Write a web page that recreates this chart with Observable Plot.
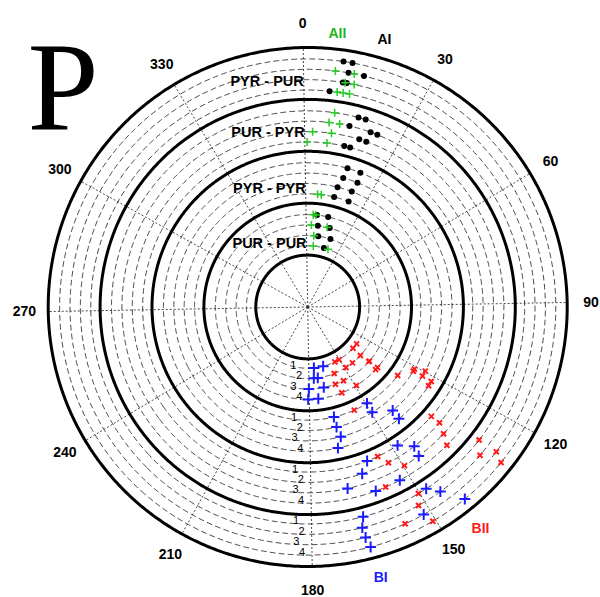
<!DOCTYPE html>
<html><head><meta charset="utf-8">
<script src="https://cdn.jsdelivr.net/npm/d3@7"></script>
<script src="https://cdn.jsdelivr.net/npm/@observablehq/plot@0.6"></script>
<style>body{margin:0;background:#fff}#chart{width:600px;height:597px}</style>
</head><body><div id="chart"></div>
<script>
// angular ticks (degrees, clockwise from top)
const angleTicks = [0,30,60,90,120,150,180,210,240,270,300,330];
// bands from centre outwards
const bandNames = ["PUR - PUR","PYR - PYR","PUR - PYR","PYR - PUR"];
const trackLabels = [1,2,3,4];
const seriesNames = ["AII","AI","BI","BII"];
// points: [band (1 = inner), track (1..4), angle in degrees]
const AI = [
 [4,4,9.3],[4,4,11.4],[4,3,10.9],[4,3,14.7],[4,2,9.9],[4,2,10.9],[4,1,6.8],
 [3,4,16.0],[3,4,18.2],[3,3,14.0],[3,3,20.8],[3,3,23.0],[3,2,18.1],[3,2,20.5],[3,1,13.8],[3,1,15.9],
 [2,4,17.0],[2,4,22.4],[2,3,16.4],[2,3,22.8],[2,2,15.0],[2,2,21.9],[2,1,14.5],[2,1,22.2],
 [1,4,6.8],[1,4,13.8],[1,3,8.1],[1,3,16.6],[1,2,9.4],[1,2,19.5],[1,1,16.3]
];
const AII = [
 [4,3,7.7],[4,3,12.3],[4,2,10.5],[4,2,12.8],[4,1,8.8],[4,1,10.4],[4,1,12.1],
 [3,4,8.9],[3,3,7.6],[3,3,10.9],[3,2,2.6],[3,2,8.8],[3,1,0.8],[3,1,7.7],
 [2,1,6.0],[2,1,7.9],
 [1,4,4.4],[1,4,6.2],[1,3,3.6],[1,3,14.7],[1,2,5.9],[1,1,6.2],[1,1,20.3]
];
const BI = [
 [1,1,175.2],[1,1,166.4],[1,2,176.1],[1,2,172.9],[1,3,180.2],[1,3,169.7],[1,4,180.7],[1,4,174.4],
 [2,1,167.6],[2,1,149.4],[2,2,167.5],[2,2,149.5],[2,3,166.7],[2,3,141.6],[2,4,168.9],[2,4,141.8],
 [3,1,148.0],[3,1,159.9],[3,2,143.6],[3,2,162.9],[3,3,144.3],[3,3,168.6],[3,4,153.0],[3,4,160.7],
 [4,1,147.9],[4,1,166.2],[4,2,145.3],[4,2,167.1],[4,3,151.8],[4,3,166.9],[4,4,141.7],[4,4,166.3]
];
const BII = [
 [1,1,128.0],[1,1,133.3],[1,1,150.2],[1,1,154.7],[1,2,133.6],[1,2,142.3],[1,2,148.7],[1,2,159.3],
 [1,3,132.3],[1,3,132.8],[1,3,155.1],[1,3,161.3],[1,4,131.9],[1,4,133.7],[1,4,149.1],[1,4,159.3],
 [2,1,128.3],[2,1,156.7],[2,2,121.2],[2,2,122.3],[2,3,119.6],[2,3,122.0],[2,4,122.1],[2,4,124.1],
 [3,1,132.5],[3,1,155.9],[3,2,132.3],[3,2,153.6],[3,3,134.0],[3,3,149.6],[3,4,135.8],[3,4,157.6],
 [4,1,128.8],[4,1,150.3],[4,2,131.7],[4,2,151.8],[4,3,128.5],[4,3,156.8],[4,4,129.8],[4,4,150.7]
];

// radial layout: hub + 4 bands of 10 units, tracks inside each band
const BAND = 10, OUTER = 50;
const trackR = (b, k) => BAND * b + 2 * k - 0.2;
const lon = a => 180 - a;          // clockwise angle from top -> longitude
const lat = r => 90 - r;           // radius -> latitude (azimuthal equidistant)
const circ = r => d3.geoCircle().center([0, 90]).radius(r).precision(0.5)();

const thick = [1,2,3,4,5].map(b => circ(BAND * b));
const dashed = [];
for (const b of [1,2,3,4]) for (const k of trackLabels) dashed.push(circ(trackR(b, k)));

const trackText = [];
for (const b of [1,2,3,4]) for (const k of trackLabels) trackText.push({b, k});
const oddTracks = trackText.filter(d => d.k % 2 === 1);
const evenTracks = trackText.filter(d => d.k % 2 === 0);

const bandLabelR = [12.3, 22.9, 33.6, 43.4];
const seriesPos = [
  {name: seriesNames[0], a: 7.2, r: 52.95, color: "#22b422"},
  {name: seriesNames[1], a: 17.0, r: 53.6, color: "#000"},
  {name: seriesNames[2], a: 165.9, r: 53.95, color: "#1a1aff"},
  {name: seriesNames[3], a: 143.1, r: 54.2, color: "#ff1a1a"}
];

const pt = arr => arr.map(([b, k, a]) => ({x: lon(a), y: lat(trackR(b, k))}));
const trackOpts = dx => ({x: lon(180), y: d => lat(trackR(d.b, d.k)), text: d => String(d.k),
  dx, dy: -3, fontSize: 11, fill: "#000"});

const plot = Plot.plot({
  width: 600, height: 597,
  marginLeft: 47.7, marginRight: 33.3, marginTop: 47, marginBottom: 31,
  style: {fontFamily: "'Liberation Sans', Arial, sans-serif", background: "#fff"},
  projection: {
    type: "azimuthal-equidistant",
    rotate: [1, -90],
    domain: circ(OUTER),
    clip: false,
    inset: 0
  },
  marks: [
    Plot.link(angleTicks, {x1: d => lon(d), y1: 89.9999, x2: d => lon(d), y2: lat(OUTER),
      stroke: "#333", strokeWidth: 0.9, strokeDasharray: "2,2"}),
    Plot.geo(dashed, {stroke: "#333", strokeWidth: 0.9, fill: "none", strokeDasharray: "5,4"}),
    Plot.geo(thick, {stroke: "#000", strokeWidth: 3, fill: "none"}),
    // angle labels
    Plot.text(angleTicks, {x: d => lon(d), y: lat(54.6), text: d => String(d),
      fontSize: 14, fontWeight: "bold", fill: "#000"}),
    // band labels
    Plot.text(bandNames, {x: lon(0), y: (d, i) => lat(bandLabelR[i]), text: d => d,
      textAnchor: "end", dx: 0, fontSize: 14.5, fontWeight: "bold", fill: "#000"}),
    // track labels
    Plot.text(oddTracks, trackOpts(-15.5)),
    Plot.text(evenTracks, trackOpts(-10)),
    // series labels
    Plot.text(seriesPos, {x: d => lon(d.a), y: d => lat(d.r), text: "name", fill: "color",
      fontSize: 14, fontWeight: "bold"}),
    // points
    Plot.dot(pt(AI), {x: "x", y: "y", r: 3, fill: "#000", stroke: "none"}),
    Plot.dot(pt(AII), {x: "x", y: "y", r: 2.7, symbol: "plus", stroke: "#22cc22", strokeWidth: 1.5, fill: "none"}),
    Plot.dot(pt(BI), {x: "x", y: "y", r: 3.6, symbol: "plus", stroke: "#1a1aff", strokeWidth: 2, fill: "none"}),
    Plot.dot(pt(BII), {x: "x", y: "y", r: 2.4, symbol: "times", stroke: "#ff1a1a", strokeWidth: 2, fill: "none"}),
    // panel letter
    Plot.text(["P"], {frameAnchor: "top-left", dx: -20.7, dy: 82, lineAnchor: "bottom", textAnchor: "start",
      text: d => d, fontSize: 128, fontFamily: "'Liberation Serif', 'Times New Roman', serif", fill: "#000"})
  ]
});
document.getElementById("chart").appendChild(plot);
</script>
</body></html>
